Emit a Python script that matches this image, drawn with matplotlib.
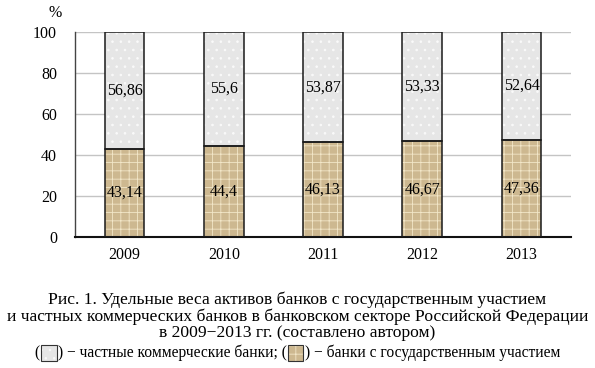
import matplotlib
matplotlib.use("Agg")
import matplotlib.pyplot as plt
from matplotlib.patches import Rectangle
from matplotlib.offsetbox import TextArea, DrawingArea, HPacker, AnnotationBbox

years = ["2009", "2010", "2011", "2012", "2013"]
state = [43.14, 44.4, 46.13, 46.67, 47.36]
private = [56.86, 55.6, 53.87, 53.33, 52.64]
state_lbl = ["43,14", "44,4", "46,13", "46,67", "47,36"]
private_lbl = ["56,86", "55,6", "53,87", "53,33", "52,64"]

plt.rcParams["font.family"] = ["Liberation Serif", "DejaVu Serif"]
plt.rcParams["hatch.linewidth"] = 0.6

fig = plt.figure(figsize=(5.95, 3.68), dpi=100)
ax = fig.add_axes([0.126, 0.356, 0.834, 0.557])

x = list(range(len(years)))
w = 0.4
tan = "#cdb890"
grey = "#e6e6e6"

# fills with texture
ax.bar(x, state, w, color=tan, edgecolor="#f2e6c8", hatch="++", linewidth=0, zorder=2)
ax.bar(x, private, w, bottom=state, color=grey, edgecolor="#fafafa", hatch="..", linewidth=0, zorder=2)
# outlines
ax.bar(x, state, w, fill=False, edgecolor="#1a1a1a", linewidth=1.1, zorder=3)
ax.bar(x, private, w, bottom=state, fill=False, edgecolor="#1a1a1a", linewidth=1.1, zorder=3)

for i in x:
    ax.text(i, state[i] / 2, state_lbl[i], ha="center", va="center", fontsize=11.5, zorder=4)
    ax.text(i, state[i] + private[i] / 2, private_lbl[i], ha="center", va="center", fontsize=11.5, zorder=4)

ax.set_xlim(-0.5, 4.5)
ax.set_ylim(0, 100)
ax.set_yticks([0, 20, 40, 60, 80, 100])
ax.set_xticks(x)
ax.set_xticklabels(years)
ax.tick_params(axis="both", length=0, labelsize=11.5)
ax.tick_params(axis="y", pad=13)
ax.tick_params(axis="x", pad=7)
ax.yaxis.grid(True, color="#c4c4c4", linewidth=1.0, zorder=1)
ax.set_axisbelow(True)
for s in ["top", "right"]:
    ax.spines[s].set_visible(False)
ax.spines["left"].set_color("#444444")
ax.spines["left"].set_linewidth(1.0)
ax.spines["bottom"].set_color("#111111")
ax.spines["bottom"].set_linewidth(1.5)

fig.text(55 / 595, 1 - 13 / 368, "%", ha="center", va="center", fontsize=11.5)

cap = ("Рис. 1. Удельные веса активов банков с государственным участием\n"
       "и частных коммерческих банков в банковском секторе Российской Федерации\n"
       "в 2009\u22122013 гг. (составлено автором)")
fig.text(0.5, 1 - 316.5 / 368, cap, ha="center", va="center", fontsize=12.6, linespacing=1.04)


def swatch(color, hatch, hcolor):
    da = DrawingArea(11, 11, 0, 0)
    da.add_artist(Rectangle((0, 0), 11, 11, facecolor=color, edgecolor=hcolor, hatch=hatch, linewidth=0))
    da.add_artist(Rectangle((0, 0), 11, 11, fill=False, edgecolor="#333333", linewidth=0.8))
    return da


tp = dict(fontsize=11.2, family=["Liberation Serif", "DejaVu Serif"])
row = HPacker(children=[
    TextArea("(", textprops=tp),
    swatch(grey, "..", "#fafafa"),
    TextArea(") \u2212 частные коммерческие банки; (", textprops=tp),
    swatch(tan, "++", "#f2e6c8"),
    TextArea(") \u2212 банки с государственным участием", textprops=tp),
], align="center", pad=0, sep=1)
ab = AnnotationBbox(row, (0.5, 1 - 353 / 368), xycoords="figure fraction", frameon=False, box_alignment=(0.5, 0.5))
fig.add_artist(ab)

fig.savefig("out.png", dpi=100)
